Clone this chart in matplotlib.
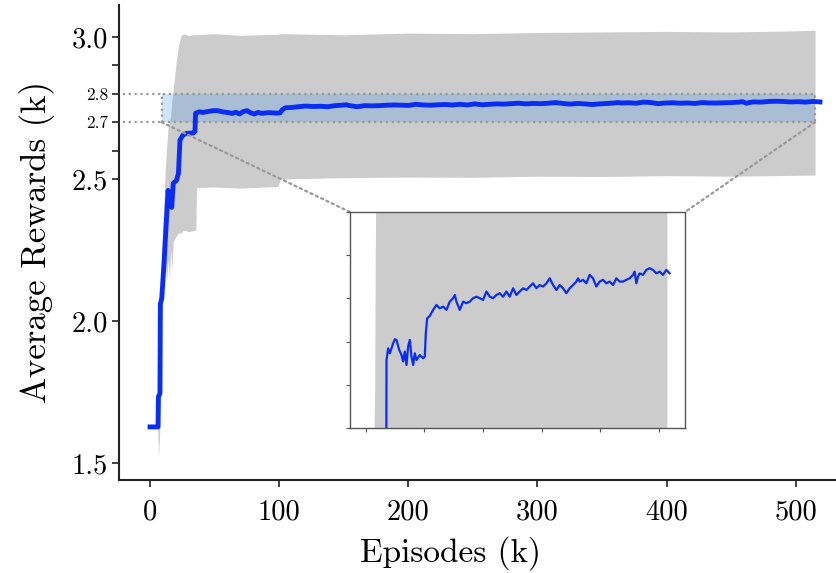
import matplotlib
matplotlib.use("Agg")
import matplotlib.pyplot as plt
from matplotlib.patches import Rectangle, ConnectionPatch

plt.rcParams['font.family'] = 'serif'
plt.rcParams['font.serif'] = ['cmr10', 'DejaVu Serif']
plt.rcParams['mathtext.fontset'] = 'cm'
plt.rcParams['axes.formatter.use_mathtext'] = True

# mean reward curve (episodes in k, reward in k)
episodes = [0, 6.2, 6.5, 7.7, 8.0, 9.1, 10.8, 12.4, 14.0, 15.0, 16.0, 16.8, 18.0, 20.5,
            22.0, 23.2, 25.5, 28.4, 33.5, 34.8,
            35.3, 38.1, 41.0, 46.6, 49.5, 52.3, 56.9, 60.9, 63.7, 66.5, 69.4, 72.2, 75.1,
            77.9, 80.8, 83.6, 86.5, 92.1, 97.8, 100.7, 102.4, 104.7, 109.2, 114.9, 120.6,
            126.3, 132.0, 137.7, 143.3, 149.0, 151.9, 154.7, 160.4, 166.1, 171.8, 177.5,
            183.1, 188.8, 194.5, 200.2, 205.9, 211.6, 217.3, 222.9, 228.6, 234.3, 240.0,
            245.7, 251.4, 257.1, 262.8, 268.5, 274.2, 279.8, 285.5, 291.2, 296.9, 302.6,
            308.3, 314.0, 319.7, 325.4, 331.0, 336.7, 342.4, 348.1, 353.8, 359.5, 362.3,
            365.2, 370.9, 376.5, 382.2, 387.9, 393.6, 399.3, 405.0, 410.7, 416.4, 422.1,
            427.7, 433.4, 439.1, 444.8, 450.5, 456.2, 459.0, 461.9, 464.7, 467.6, 473.3,
            478.9, 484.6, 490.3, 496.0, 501.7, 507.4, 513.1, 518.8]
reward = [1.627, 1.627, 1.733, 1.745, 2.06, 2.08, 2.20, 2.33, 2.46, 2.42, 2.44, 2.40, 2.485, 2.495,
          2.52, 2.637, 2.655, 2.661, 2.662, 2.668,
          2.7315, 2.7369, 2.7346, 2.7392, 2.7411, 2.7408, 2.7362, 2.7338, 2.7308, 2.7354,
          2.7292, 2.7377, 2.7408, 2.7331, 2.7292, 2.7346, 2.7315, 2.7338, 2.7323, 2.7331,
          2.7439, 2.7508, 2.7519, 2.7547, 2.7570, 2.7554, 2.7562, 2.7547, 2.7585, 2.7601,
          2.7616, 2.7585, 2.7547, 2.7585, 2.7578, 2.7585, 2.7601, 2.7608, 2.7601, 2.7593,
          2.7632, 2.7608, 2.7601, 2.7616, 2.7624, 2.7608, 2.7632, 2.7608, 2.7647, 2.7616,
          2.7632, 2.7647, 2.7639, 2.7655, 2.7670, 2.7647, 2.7662, 2.7655, 2.7670, 2.7693,
          2.7662, 2.7639, 2.7662, 2.7647, 2.7624, 2.7647, 2.7662, 2.7678, 2.7693, 2.7678,
          2.7686, 2.7670, 2.7709, 2.7693, 2.7655, 2.7678, 2.7686, 2.7670, 2.7678, 2.7662,
          2.7693, 2.7678, 2.7678, 2.7686, 2.7693, 2.7709, 2.7724, 2.7670, 2.7701, 2.7716,
          2.7709, 2.7732, 2.7740, 2.7732, 2.7716, 2.7724, 2.7709, 2.7732, 2.7716]

# spread band
band_ep = [0, 6, 6.5, 7.5, 8.5, 9.5, 11, 12, 13, 14, 15, 16, 17, 18, 19, 20.5, 22, 24, 26,
           30, 35.5, 36, 50, 70, 99, 101, 150, 200, 250, 300, 350, 400, 450, 500, 515]
band_hi = [1.627, 1.63, 1.74, 1.76, 2.15, 2.30, 2.45, 2.55, 2.62, 2.68, 2.70, 2.72, 2.78,
           2.82, 2.86, 2.92, 2.97, 3.005, 3.012, 3.005, 3.01, 3.008, 3.012, 3.006, 3.01,
           3.012, 3.008, 3.014, 3.012, 3.016, 3.018, 3.02, 3.018, 3.022, 3.024]
band_lo = [1.627, 1.625, 1.52, 1.60, 1.95, 2.08, 2.15, 2.20, 2.14, 2.22, 2.15, 2.25, 2.18,
           2.28, 2.29, 2.30, 2.31, 2.31, 2.32, 2.315, 2.32, 2.47, 2.472, 2.468, 2.474,
           2.50, 2.505, 2.507, 2.506, 2.51, 2.509, 2.512, 2.51, 2.513, 2.514]

yticks = [1.5, 2.0, 2.5, 2.6, 2.7, 2.8, 2.9, 3.0]
ytick_labels = ['1.5', '2.0', '2.5', '', '2.7', '2.8', '', '3.0']
xticks = [0, 100, 200, 300, 400, 500]

zoom_x = (9, 515)
zoom_y = (2.7, 2.8)

blue = '#0a2df5'
band_color = '#cccccc'
dot_color = '#999999'

fig = plt.figure(figsize=(8.37, 5.73), dpi=100)
ax = fig.add_axes([0.1422, 0.1623, 0.8578, 0.829])

ax.fill_between(band_ep, band_lo, band_hi, color=band_color, lw=0, zorder=1)
ax.plot(episodes, reward, color=blue, lw=3.5, zorder=4)

# zoom box
ax.add_patch(Rectangle((zoom_x[0], zoom_y[0]), zoom_x[1] - zoom_x[0], zoom_y[1] - zoom_y[0],
                       facecolor='#4391ef', alpha=0.25, edgecolor='none', zorder=2))
ax.add_patch(Rectangle((zoom_x[0], zoom_y[0]), zoom_x[1] - zoom_x[0], zoom_y[1] - zoom_y[0],
                       facecolor='none', edgecolor=dot_color, ls=':', lw=1.6, zorder=3))
ax.hlines(zoom_y, -30, zoom_x[0], colors=dot_color, linestyles=':', lw=1.6, zorder=3)

ax.set_xlim(-24, 532)
ax.set_ylim(1.44, 3.113)
ax.set_xticks(xticks)
ax.set_xticklabels([str(v) for v in xticks])
ax.set_yticks(yticks)
ax.set_yticklabels(ytick_labels)
ax.tick_params(axis='both', direction='out', length=5, width=1.2, labelsize=20.5, color='#222222')
ax.tick_params(axis='y', pad=3)
ax.tick_params(axis='x', pad=9)
for lab in ax.get_yticklabels():
    if lab.get_text() in ('2.7', '2.8'):
        lab.set_fontsize(12.5)
for side in ('top', 'right'):
    ax.spines[side].set_visible(False)
for side in ('left', 'bottom'):
    ax.spines[side].set_color('#222222')
    ax.spines[side].set_linewidth(1.5)

ax.set_xlabel('Episodes (k)', fontsize=24)
ax.xaxis.set_label_coords(0.462, -0.118)
ax.set_ylabel('Average Rewards (k)', fontsize=25, labelpad=12)

# inset
axins = fig.add_axes([0.4182, 0.2530, 0.4002, 0.3770])
axins.fill_between(band_ep, band_lo, band_hi, color=band_color, lw=0)
axins.plot(episodes, reward, color=blue, lw=1.6)
axins.set_xlim(-27, 545)
axins.set_ylim(zoom_y)
axins.set_xticks(xticks)
axins.set_yticks([2.70, 2.72, 2.74, 2.76, 2.78, 2.80])
axins.set_xticklabels([])
axins.set_yticklabels([])
axins.tick_params(direction='out', length=3, width=0.8, color='#555555')
for s in axins.spines.values():
    s.set_color('#555555')
    s.set_linewidth(1.0)
axins.set_zorder(5)

for xa, xb in ((zoom_x[0], 0), (zoom_x[1], 1)):
    con = ConnectionPatch(xyA=(xa, zoom_y[0]), coordsA=ax.transData,
                          xyB=(xb, 1), coordsB=axins.transAxes,
                          color=dot_color, ls=':', lw=1.6, zorder=3)
    fig.add_artist(con)

fig.savefig('out.png', dpi=100)
